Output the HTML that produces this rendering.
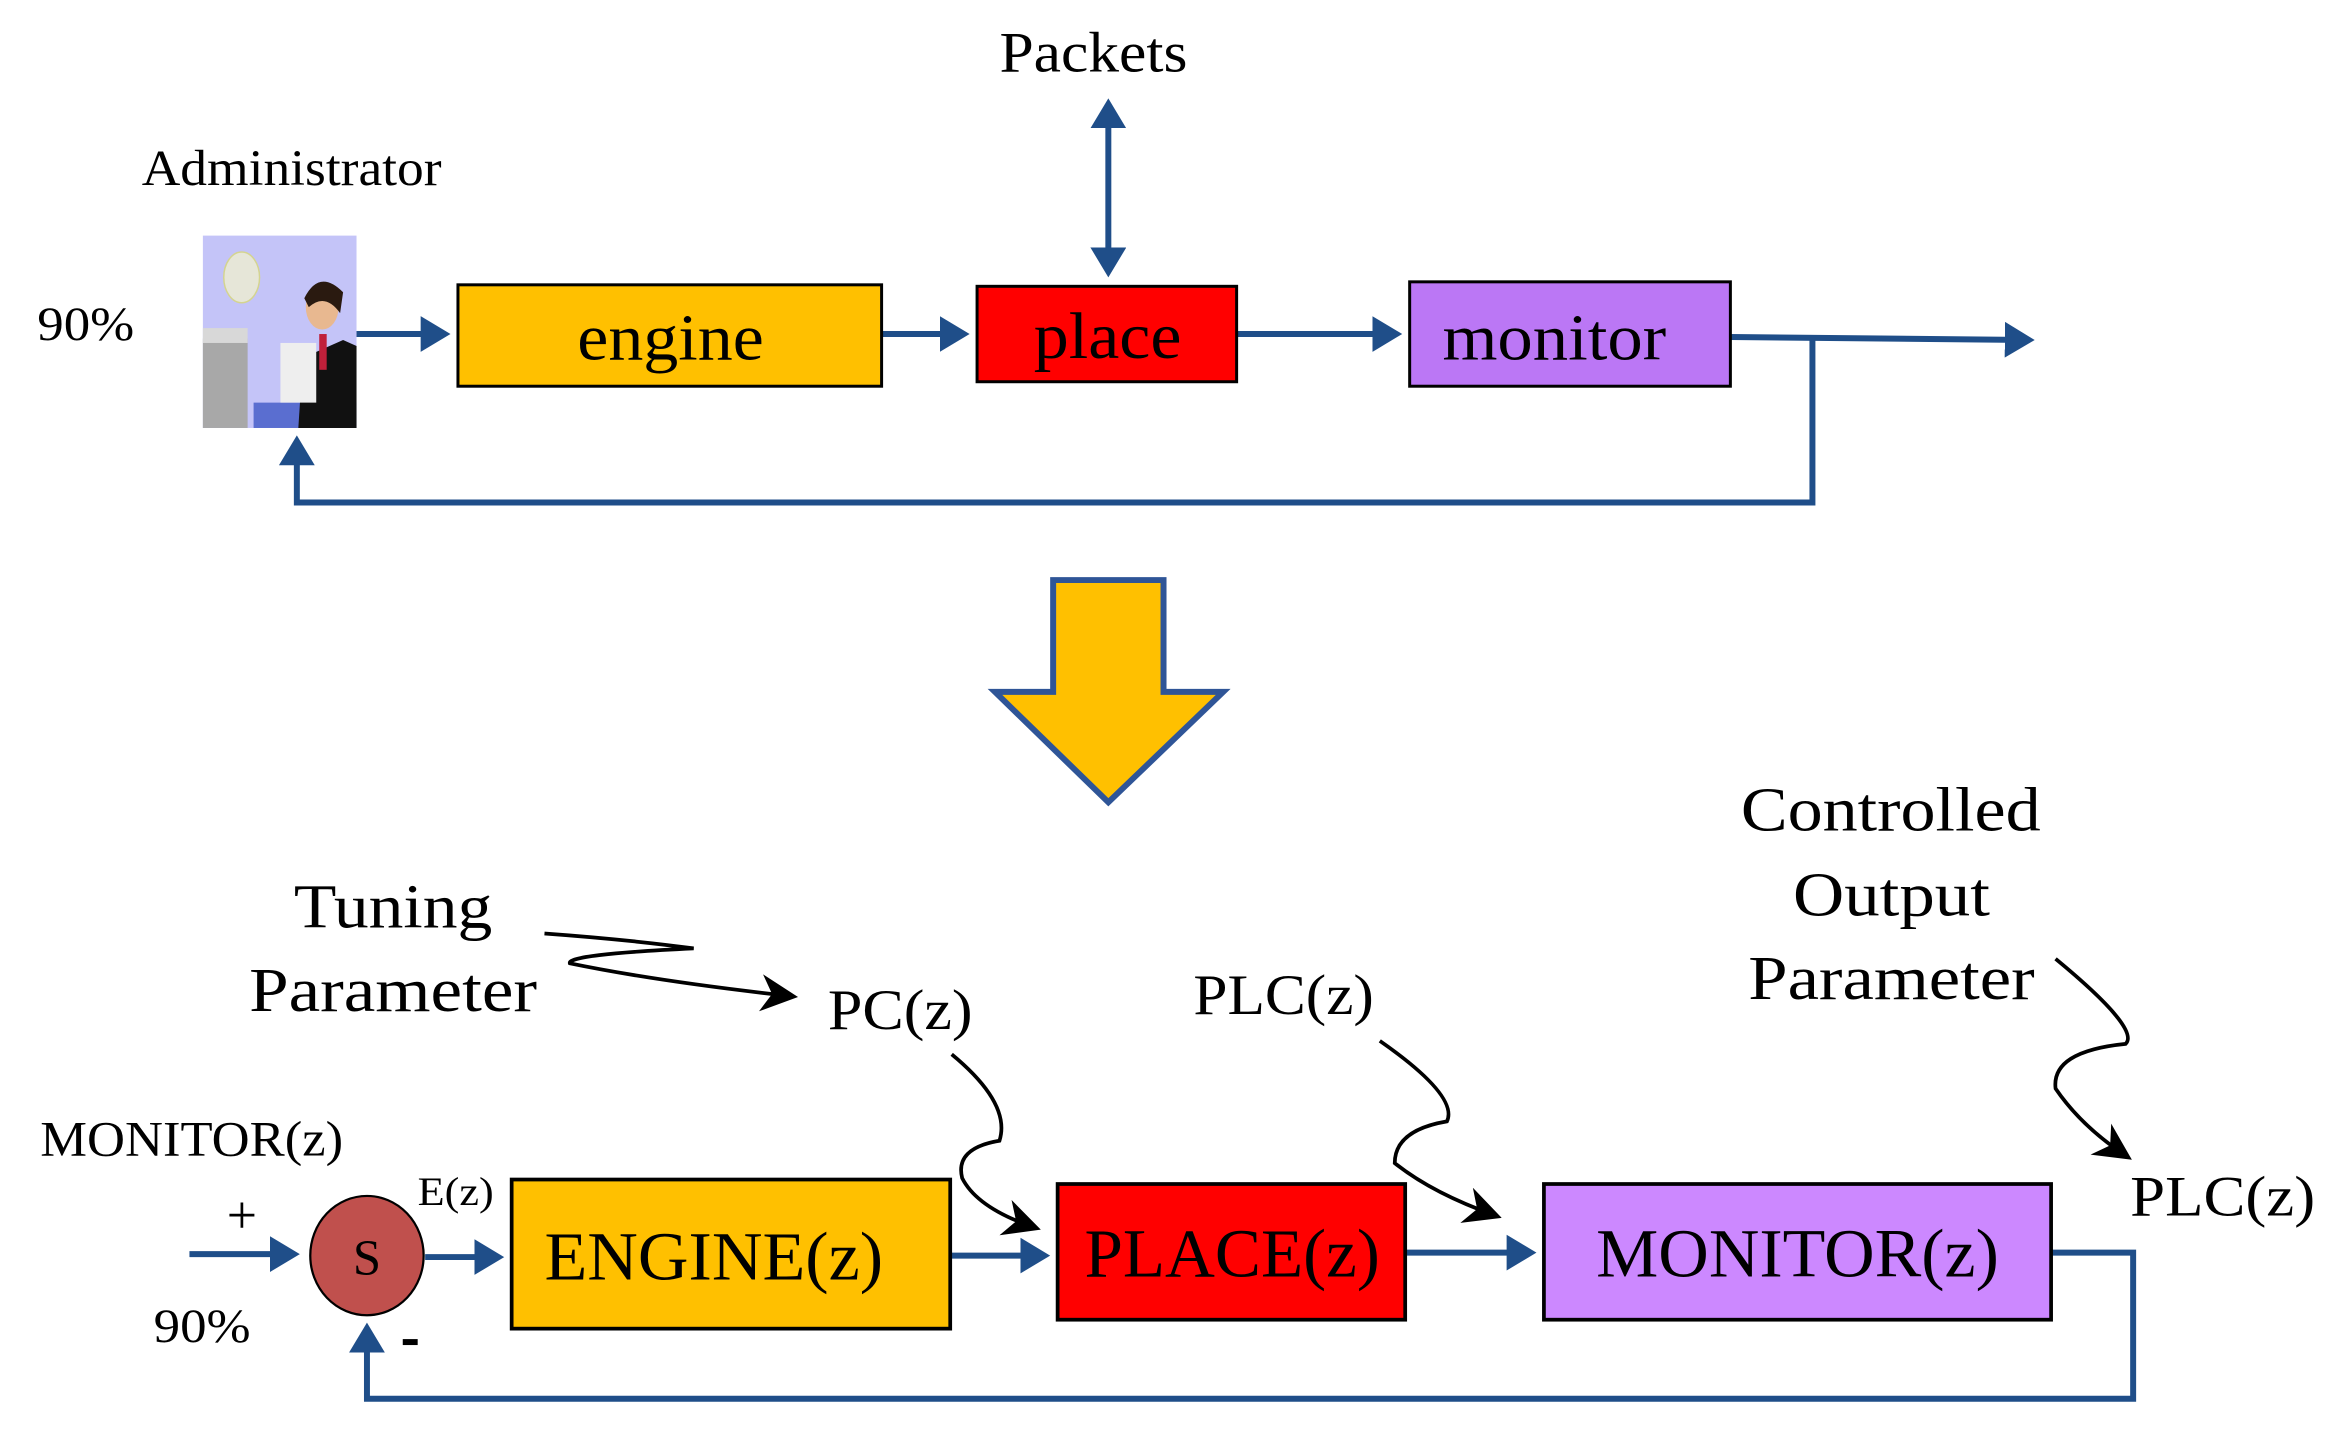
<!DOCTYPE html>
<html><head><meta charset="utf-8"><style>
html,body{margin:0;padding:0;background:#fff;}
svg{display:block;}
text{font-family:"Liberation Serif",serif;fill:#000;}
</style></head><body>
<svg width="2339" height="1439" viewBox="0 0 1568 965" preserveAspectRatio="none" xmlns="http://www.w3.org/2000/svg">
<defs>
<marker id="ab" markerWidth="6" markerHeight="6" refX="4" refY="3" orient="auto-start-reverse" markerUnits="strokeWidth"><path d="M0,0 L5,3 L0,6 z" fill="#1F4E89"/></marker>
<marker id="ak" markerWidth="10" markerHeight="10" refX="8" refY="5" orient="auto" markerUnits="strokeWidth"><path d="M0,0 L10,5 L0,10 L3,5 z" fill="#000"/></marker>
</defs>
<g stroke="#1F4E89" stroke-width="4" fill="none">
<line x1="743" y1="182" x2="743" y2="70" marker-end="url(#ab)" marker-start="url(#ab)"/>
<line x1="239" y1="224" x2="298" y2="224" marker-end="url(#ab)"/>
<line x1="591" y1="224" x2="646" y2="224" marker-end="url(#ab)"/>
<line x1="829" y1="224" x2="936" y2="224" marker-end="url(#ab)"/>
<line x1="1160" y1="226" x2="1360" y2="228" marker-end="url(#ab)"/>
<polyline points="1215,228 1215,337 199,337 199,296" marker-end="url(#ab)"/>
<line x1="127" y1="841" x2="197" y2="841" marker-end="url(#ab)"/>
<line x1="285" y1="843" x2="334" y2="843" marker-end="url(#ab)"/>
<line x1="637" y1="842" x2="700" y2="842" marker-end="url(#ab)"/>
<line x1="942" y1="840" x2="1026" y2="840" marker-end="url(#ab)"/>
<polyline points="1375,840 1430,840 1430,938 246,938 246,891" marker-end="url(#ab)"/>
</g>
<!-- admin image -->
<rect x="136" y="158" width="103" height="129" fill="#C4C4F8"/>
<ellipse cx="162" cy="186" rx="12" ry="17" fill="#E6E6D8" stroke="#D4D490"/>
<rect x="136" y="227" width="30" height="60" fill="#A8A8A8"/>
<rect x="136" y="220" width="30" height="10" fill="#D8D8D8"/>
<rect x="170" y="270" width="69" height="17" fill="#5A6ED0"/>
<path d="M203,240 L230,228 L239,232 L239,287 L200,287 z" fill="#111"/>
<rect x="188" y="230" width="24" height="40" fill="#EEE"/>
<ellipse cx="216" cy="206" rx="11" ry="15" fill="#E8B890"/>
<path d="M204,200 Q214,180 230,196 L228,210 Q218,196 207,206z" fill="#2A1A10"/>
<rect x="214" y="224" width="5" height="24" fill="#C0203A"/>
<rect x="307" y="191" width="284" height="68" fill="#FFC000" stroke="#000" stroke-width="2"/>
<rect x="655" y="192" width="174" height="64" fill="#FF0000" stroke="#000" stroke-width="2"/>
<rect x="945" y="189" width="215" height="70" fill="#BB77F5" stroke="#000" stroke-width="2"/>
<text x="387" y="241" font-size="44" textLength="125" lengthAdjust="spacingAndGlyphs">engine</text>
<text x="693" y="240" font-size="44" textLength="99" lengthAdjust="spacingAndGlyphs">place</text>
<text x="967" y="241" font-size="44" textLength="150" lengthAdjust="spacingAndGlyphs">monitor</text>
<text x="670" y="48" font-size="38" textLength="126" lengthAdjust="spacingAndGlyphs">Packets</text>
<text x="95" y="124" font-size="34" textLength="201" lengthAdjust="spacingAndGlyphs">Administrator</text>
<text x="25" y="228" font-size="32" textLength="65" lengthAdjust="spacingAndGlyphs">90%</text>
<path d="M706,389 L780,389 L780,464 L820,464 L743,538 L667,464 L706,464 z" fill="#FFC000" stroke="#2F5597" stroke-width="4"/>
<text x="197" y="622" font-size="42" textLength="133" lengthAdjust="spacingAndGlyphs">Tuning</text>
<text x="167" y="678" font-size="42" textLength="193" lengthAdjust="spacingAndGlyphs">Parameter</text>
<text x="555" y="690" font-size="38" textLength="97" lengthAdjust="spacingAndGlyphs">PC(z)</text>
<text x="800" y="680" font-size="38" textLength="121" lengthAdjust="spacingAndGlyphs">PLC(z)</text>
<text x="1167" y="557" font-size="42" textLength="201" lengthAdjust="spacingAndGlyphs">Controlled</text>
<text x="1202" y="614" font-size="42" textLength="132" lengthAdjust="spacingAndGlyphs">Output</text>
<text x="1172" y="670" font-size="42" textLength="192" lengthAdjust="spacingAndGlyphs">Parameter</text>
<text x="27" y="775" font-size="33" textLength="203" lengthAdjust="spacingAndGlyphs">MONITOR(z)</text>
<text x="280" y="808" font-size="27" textLength="51" lengthAdjust="spacingAndGlyphs">E(z)</text>
<text x="152" y="827" font-size="36">+</text>
<text x="103" y="900" font-size="32" textLength="65" lengthAdjust="spacingAndGlyphs">90%</text>
<rect x="270" y="898" width="10" height="4" fill="#000"/>
<text x="1428" y="815" font-size="38" textLength="124" lengthAdjust="spacingAndGlyphs">PLC(z)</text>
<ellipse cx="246" cy="842" rx="38" ry="40" fill="#C0504D" stroke="#000" stroke-width="1.5"/>
<text x="246" y="855" font-size="34" text-anchor="middle" fill="#222">S</text>
<rect x="343" y="791" width="294" height="100" fill="#FFC000" stroke="#000" stroke-width="2.5"/>
<rect x="709" y="794" width="233" height="91" fill="#FF0000" stroke="#000" stroke-width="2.5"/>
<rect x="1035" y="794" width="340" height="91" fill="#CC88FF" stroke="#000" stroke-width="2.5"/>
<text x="365" y="858" font-size="46" textLength="227" lengthAdjust="spacingAndGlyphs">ENGINE(z)</text>
<text x="727" y="856" font-size="46" textLength="198" lengthAdjust="spacingAndGlyphs">PLACE(z)</text>
<text x="1070" y="856" font-size="46" textLength="270" lengthAdjust="spacingAndGlyphs">MONITOR(z)</text>
<g stroke="#000" stroke-width="2.5" fill="none">
<path d="M365,626 Q420,630 465,636 Q380,640 382,646 Q440,658 530,668" marker-end="url(#ak)"/>
<path d="M638,707 Q678,740 670,765 Q640,770 645,790 Q655,810 693,823" marker-end="url(#ak)"/>
<path d="M925,698 Q978,735 970,752 Q935,758 935,780 Q960,800 1002,815" marker-end="url(#ak)"/>
<path d="M1378,643 Q1435,690 1425,700 Q1375,705 1378,730 Q1395,755 1425,775" marker-end="url(#ak)"/>
</g>
</svg>
</body></html>
